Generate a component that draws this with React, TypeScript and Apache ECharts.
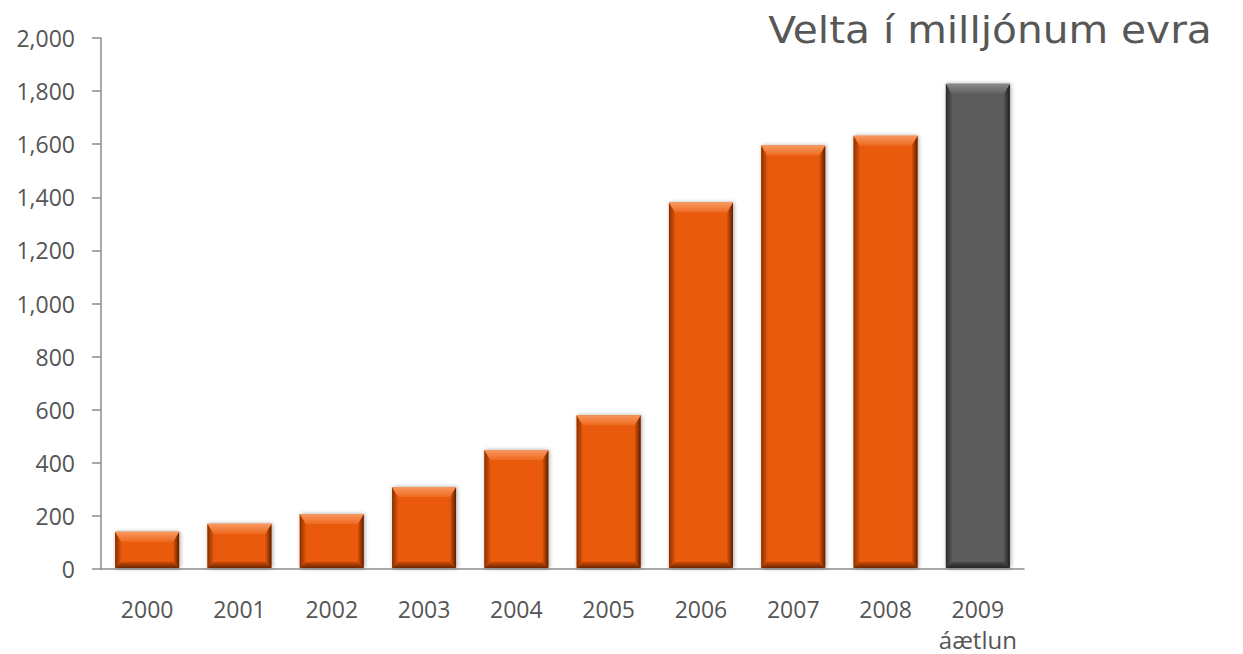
import React, { useEffect, useRef } from "react";
import * as echarts from "echarts";

const categories = ["2000", "2001", "2002", "2003", "2004", "2005", "2006", "2007", "2008", "2009"];
const subLabels = ["", "", "", "", "", "", "", "", "", "áætlun"];
const values = [140, 170, 207, 309, 448, 579, 1380, 1595, 1632, 1828];
const forecastIndex = 9;
const yTicks = { min: 0, max: 2000, interval: 200 };
const title = "Velta í milljónum evra";

const palettes = {
  orange: {
    face: "#e95a0c",
    top: ["#f89860", "#ee6a20"],
    left: ["#8a3000", "#dc550a"],
    right: ["#e0560a", "#5a1e00"],
    bottom: ["#c84a08", "#6e2600"],
  },
  gray: {
    face: "#5b5b5b",
    top: ["#8a8a8a", "#626262"],
    left: ["#2a2a2a", "#555555"],
    right: ["#555555", "#1e1e1e"],
    bottom: ["#4a4a4a", "#262626"],
  },
};

const lg = (x2: number, y2: number, c: string[]) =>
  new echarts.graphic.LinearGradient(0, 0, x2, y2, [
    { offset: 0, color: c[0] },
    { offset: 1, color: c[1] },
  ]);

export default function App() {
  const ref = useRef<HTMLDivElement>(null);
  useEffect(() => {
    if (!ref.current) return;
    const chart = echarts.init(ref.current, null, { renderer: "svg" });
    const font = "'Open Sans', sans-serif";
    chart.setOption({
      animation: false,
      backgroundColor: "#ffffff",
      textStyle: { fontFamily: font },
      graphic: [
        {
          type: "text",
          right: 31,
          top: 12,
          scaleX: 1.1,
          style: {
            text: title,
            font: "37px 'DejaVu Sans', sans-serif",
            fill: "#575757",
          },
        },
      ],
      grid: { left: 101, right: 219, top: 38, bottom: 85 },
      xAxis: {
        type: "category",
        data: categories.map((c, i) => (subLabels[i] ? c + "\n{s|" + subLabels[i] + "}" : c)),
        axisLine: { lineStyle: { color: "#8c8c8c", width: 1.5 } },
        axisTick: { length: 9, lineStyle: { color: "#8c8c8c", width: 1.5 } },
        axisLabel: {
          interval: 0,
          color: "#555555",
          fontFamily: font,
          fontSize: 23,
          margin: 25,
          lineHeight: 30,
          rich: { s: { fontFamily: font, fontSize: 24, color: "#555555", lineHeight: 30 } },
        },
      },
      yAxis: {
        type: "value",
        min: yTicks.min,
        max: yTicks.max,
        interval: yTicks.interval,
        splitLine: { show: false },
        axisLine: { show: true, lineStyle: { color: "#8c8c8c", width: 1.5 } },
        axisTick: { show: true, length: 9, lineStyle: { color: "#8c8c8c", width: 1.5 } },
        axisLabel: {
          color: "#555555",
          fontFamily: font,
          fontSize: 23,
          margin: 26,
          formatter: (v: number) => v.toLocaleString("en-US"),
        },
      },
      series: [
        {
          type: "custom",
          encode: { x: 0, y: 1 },
          data: values.map((v, i) => [i, v]),
          renderItem: (params: any, api: any) => {
            const i = api.value(0);
            const v = api.value(1);
            const topPt = api.coord([i, v]);
            const basePt = api.coord([i, 0]);
            const w = 64;
            const L = topPt[0] - w / 2;
            const R = L + w;
            const T = topPt[1];
            const B = basePt[1] - 1;
            const h = B - T;
            const b = Math.min(10, h / 3);
            const s = 6;
            const d = Math.min(6, h / 4);
            const p = i === forecastIndex ? palettes.gray : palettes.orange;
            return {
              type: "group",
              children: [
                {
                  type: "rect",
                  shape: { x: L, y: T, width: w, height: h },
                  style: { fill: p.face, shadowBlur: 4, shadowColor: "rgba(0,0,0,0.35)", shadowOffsetX: 1, shadowOffsetY: 0 },
                },
                {
                  type: "polygon",
                  shape: { points: [[L, T], [L + s, T + b], [L + s, B - d], [L, B]] },
                  style: { fill: lg(1, 0, p.left) },
                },
                {
                  type: "polygon",
                  shape: { points: [[R, T], [R, B], [R - s, B - d], [R - s, T + b]] },
                  style: { fill: lg(1, 0, p.right) },
                },
                {
                  type: "polygon",
                  shape: { points: [[L, B], [L + s, B - d], [R - s, B - d], [R, B]] },
                  style: { fill: lg(0, 1, p.bottom) },
                },
                {
                  type: "polygon",
                  shape: { points: [[L, T], [R, T], [R - s, T + b], [L + s, T + b]] },
                  style: { fill: lg(0, 1, p.top) },
                },
              ],
            };
          },
        },
      ],
    });
    return () => chart.dispose();
  }, []);
  return <div ref={ref} style={{ width: 1243, height: 654, position: "absolute", left: 0, top: 0 }} />;
}
